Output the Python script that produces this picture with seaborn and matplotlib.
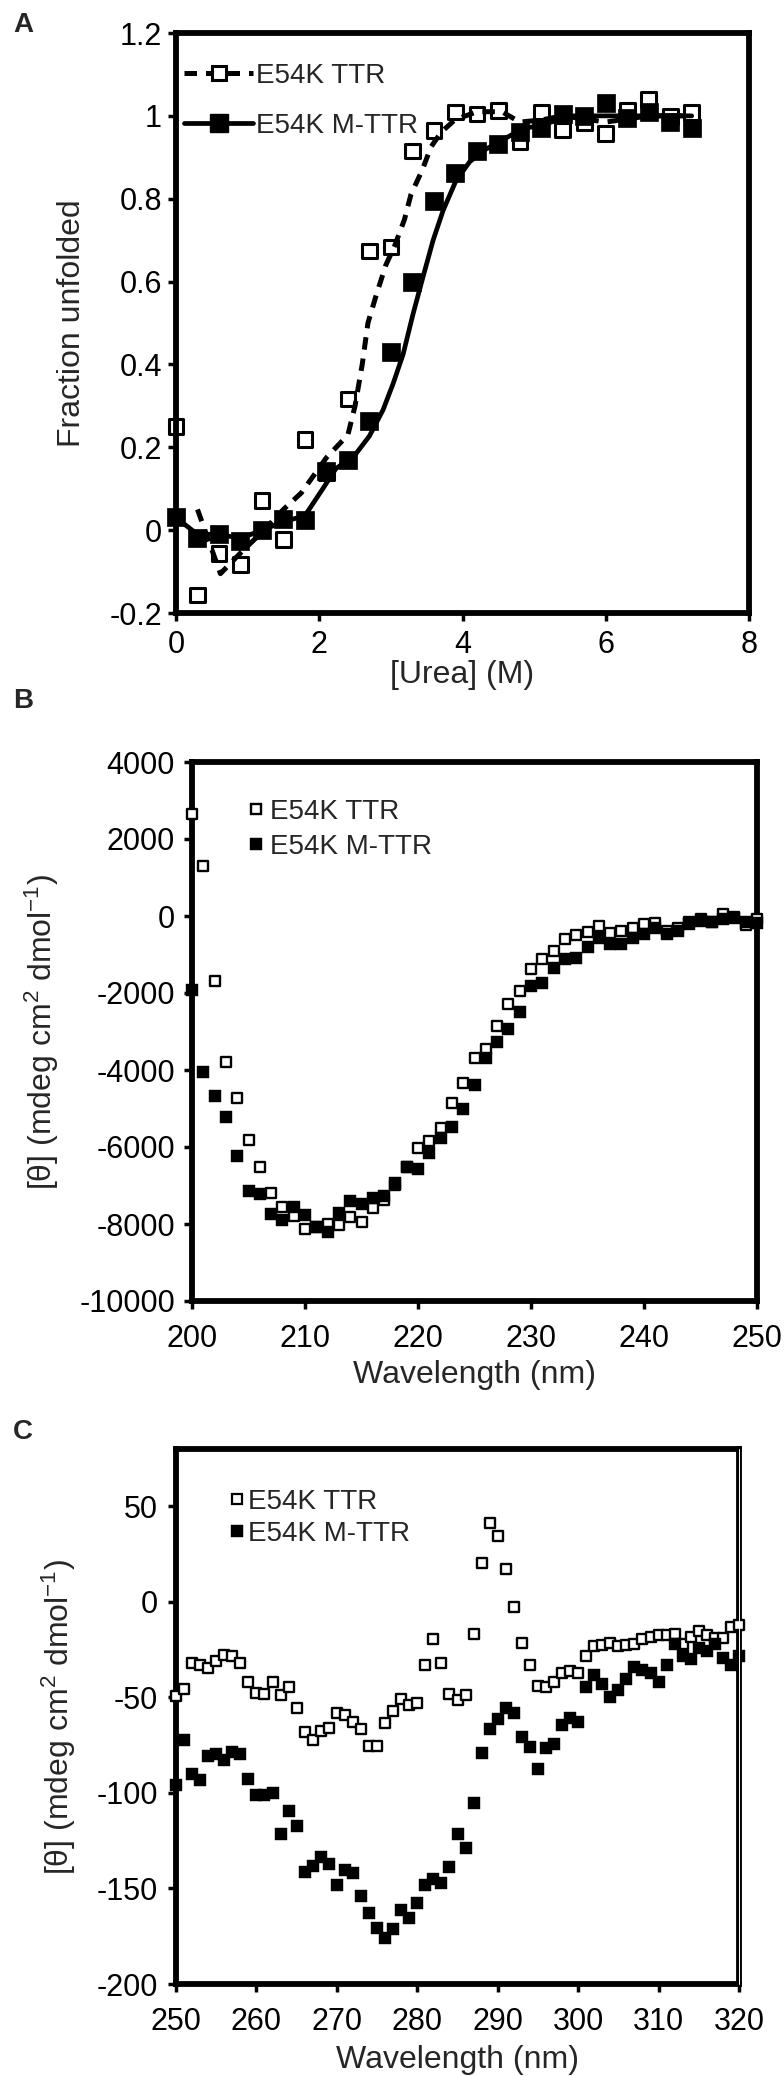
import matplotlib
matplotlib.use("Agg")
import matplotlib.pyplot as plt
from matplotlib.lines import Line2D
import seaborn as sns

# ---------------- Panel A data ----------------
urea = [0.0, 0.3, 0.6, 0.9, 1.2, 1.5, 1.8, 2.1, 2.4, 2.7, 3.0, 3.3, 3.6,
        3.9, 4.2, 4.5, 4.8, 5.1, 5.4, 5.7, 6.0, 6.3, 6.6, 6.9, 7.2]
ttr_unf = [0.25, -0.157, -0.057, -0.083, 0.071, -0.022, 0.219, 0.138, 0.317,
           0.674, 0.683, 0.915, 0.964, 1.009, 1.004, 1.013, 0.937, 1.009,
           0.966, 0.984, 0.957, 1.013, 1.04, 0.998, 1.008]
mttr_unf = [0.032, -0.018, -0.009, -0.027, 0.0, 0.027, 0.025, 0.143, 0.17,
            0.263, 0.429, 0.598, 0.794, 0.862, 0.915, 0.933, 0.962, 0.97,
            1.005, 1.0, 1.03, 0.995, 1.01, 0.984, 0.97]
fit_ttr_x = [0.3, 0.62, 0.93, 1.2, 1.5, 1.75, 2.1, 2.4, 2.5, 2.6, 2.68, 2.8,
             2.93, 3.05, 3.19, 3.28, 3.44, 3.56, 3.7, 3.89, 4.2, 4.55, 4.8,
             5.1, 5.4, 6.0, 6.6, 7.2]
fit_ttr_y = [0.05, -0.105, -0.05, -0.005, 0.05, 0.09, 0.175, 0.23, 0.30, 0.40,
             0.50, 0.57, 0.64, 0.685, 0.75, 0.81, 0.87, 0.925, 0.96, 0.99,
             1.01, 1.01, 0.985, 0.99, 1.0, 0.985, 1.0, 1.0]
fit_mttr_x = [0.0, 0.3, 0.6, 0.9, 1.2, 1.5, 1.8, 2.05, 2.23, 2.51, 2.7, 2.89,
              3.03, 3.17, 3.31, 3.45, 3.59, 3.73, 3.91, 4.1, 4.28, 4.56, 4.84,
              5.12, 5.5, 6.0, 6.6, 7.2]
fit_mttr_y = [0.03, -0.01, -0.01, -0.02, 0.0, 0.02, 0.035, 0.10, 0.148, 0.184,
              0.227, 0.29, 0.353, 0.424, 0.522, 0.612, 0.70, 0.772, 0.844,
              0.889, 0.915, 0.942, 0.969, 0.978, 1.0, 1.0, 1.0, 1.0]
a_xticks = [0, 2, 4, 6, 8]
a_yticks = [-0.2, 0, 0.2, 0.4, 0.6, 0.8, 1.0, 1.2]
a_ylabels = ["-0.2", "0", "0.2", "0.4", "0.6", "0.8", "1", "1.2"]

# ---------------- Panel B data (far-UV CD) ----------------
wl_b = list(range(200, 251))
ttr_far = [2660, 1296, -1690, -3800, -4720, -5820, -6530, -7190, -7560, -7800,
           -8140, -8080, -7990, -8020, -7810, -7940, -7580, -7380, -6980, -6520,
           -6030, -5850, -5510, -4860, -4340, -3680, -3450, -2850, -2290, -1940,
           -1370, -1110, -900, -610, -500, -420, -270, -440, -380, -320,
           -210, -170, -380, -320, -150, -70, -150, 50, -30, -230, -90]
mttr_far = [-1910, -4060, -4680, -5210, -6230, -7130, -7210, -7730, -7900, -7560,
            -7770, -8080, -8220, -7710, -7410, -7480, -7330, -7270, -6940, -6520,
            -6570, -6150, -5760, -5470, -5010, -4400, -3680, -3280, -2930, -2490,
            -1830, -1740, -1340, -1110, -1080, -810, -560, -730, -730, -580,
            -460, -300, -460, -380, -210, -120, -150, -90, -60, -150, -170]
b_xticks = [200, 210, 220, 230, 240, 250]
b_yticks = [-10000, -8000, -6000, -4000, -2000, 0, 2000, 4000]

# ---------------- Panel C data (near-UV CD) ----------------
wl_c = list(range(250, 321))
ttr_near = [-49.3, -45.4, -31.9, -33.0, -34.6, -30.7, -27.8, -28.5, -31.9, -42.0,
            -47.5, -48.1, -41.8, -48.8, -44.3, -55.4, -68.0, -72.3, -67.8, -65.8,
            -58.3, -59.4, -62.8, -66.7, -75.3, -75.3, -63.5, -57.2, -51.1, -53.8,
            -52.7, -32.8, -19.4, -31.9, -48.1, -51.5, -48.8, -16.9, 20.1, 41.1,
            34.4, 17.4, -2.9, -21.5, -32.8, -44.1, -44.7, -41.8, -37.3, -36.2,
            -37.3, -28.2, -23.3, -22.6, -21.5, -23.3, -22.6, -22.1, -19.2, -18.3,
            -17.6, -17.6, -16.9, -22.1, -18.3, -15.4, -17.2, -18.8, -18.8, -13.1,
            -12.0]
mttr_near = [-95.6, -72.5, -89.9, -93.3, -80.9, -79.8, -82.7, -78.6, -79.8, -92.9,
             -101.2, -101.2, -100.1, -121.6, -109.6, -117.1, -141.5, -138.5, -133.3, -137.4,
             -148.2, -140.3, -141.9, -153.9, -162.9, -170.6, -175.8, -171.3, -161.1, -165.2,
             -157.7, -148.2, -144.9, -146.9, -139.0, -121.6, -129.0, -105.1, -79.3, -66.7,
             -61.2, -55.6, -58.3, -70.7, -75.9, -87.7, -76.4, -74.6, -64.6, -60.6,
             -62.8, -44.7, -38.4, -42.9, -49.9, -45.9, -40.2, -34.1, -35.7, -37.3,
             -41.8, -32.8, -22.1, -28.2, -30.1, -24.4, -25.5, -22.1, -29.4, -32.8,
             -28.2]
c_xticks = [250, 260, 270, 280, 290, 300, 310, 320]
c_yticks = [-200, -150, -100, -50, 0, 50]

labels = ["E54K TTR", "E54K M-TTR"]

# ---------------- style ----------------
sns.set_style("ticks")
plt.rcParams["font.family"] = ["Liberation Sans", "DejaVu Sans"]
plt.rcParams["axes.unicode_minus"] = False
plt.rcParams["mathtext.fontset"] = "custom"
plt.rcParams["mathtext.rm"] = "Liberation Sans"
plt.rcParams["mathtext.default"] = "regular"

W, H = 784, 2076
fig = plt.figure(figsize=(W / 100, H / 100), dpi=100)
fig.patch.set_facecolor("white")


def add_axes(l, r, t, b):
    return fig.add_axes([l / W, 1 - b / H, (r - l) / W, (b - t) / H])


def style(ax, xpad, ypad, fs):
    ax.set_facecolor("white")
    for s in ax.spines.values():
        s.set_visible(True)
        s.set_linewidth(4.2)
        s.set_color("black")
        s.set_capstyle("projecting")
        s.set_zorder(6)
    ax.tick_params(direction="out", length=5.8, width=2.5, color="black",
                   labelsize=fs, labelcolor="black")
    ax.tick_params(axis="x", pad=xpad)
    ax.tick_params(axis="y", pad=ypad)
    ax.grid(False)


axA = add_axes(176, 749, 33, 613)
axB = add_axes(192, 757, 762, 1301)
axC = add_axes(176, 739, 1449, 1984)

DASH = (0, (2.5, 1.8))

# ---------------- Panel A ----------------
sns.lineplot(x=fit_ttr_x, y=fit_ttr_y, ax=axA, color="black", linewidth=3.6,
             linestyle=DASH, estimator=None, errorbar=None, zorder=2)
sns.lineplot(x=fit_mttr_x, y=fit_mttr_y, ax=axA, color="black", linewidth=3.4,
             estimator=None, errorbar=None, zorder=2)
sns.scatterplot(x=urea, y=ttr_unf, ax=axA, marker="s", s=10.5 ** 2,
                facecolor="none", edgecolor="black", linewidth=2.2, zorder=7,
                legend=False, clip_on=False)
sns.scatterplot(x=urea, y=mttr_unf, ax=axA, marker="s", s=12.5 ** 2,
                color="black", edgecolor="black", linewidth=0.5, zorder=8,
                legend=False, clip_on=False)
axA.set_xlim(0, 8)
axA.set_ylim(-0.2, 1.2)
axA.set_xticks(a_xticks)
axA.set_xticklabels([str(v) for v in a_xticks])
axA.set_yticks(a_yticks)
axA.set_yticklabels(a_ylabels)
style(axA, 6.5, 4.3, 22)
axA.set_xlabel("[Urea] (M)", fontsize=23, labelpad=0)
axA.set_ylabel("Fraction unfolded", fontsize=23, labelpad=0)
axA.xaxis.set_label_coords(0.5, -0.081)
axA.yaxis.set_label_coords(-0.155, 0.5)
hA1 = Line2D([], [], color="black", lw=3.6, linestyle=DASH, marker="s", ms=10.5,
             mfc="white", mec="black", mew=2.2)
hA2 = Line2D([], [], color="black", lw=3.4, marker="s", ms=12.5, mfc="black",
             mec="black")
axA.legend([hA1, hA2], labels, loc="upper left", bbox_to_anchor=(0.014, 0.949),
           frameon=False, fontsize=20, handlelength=2.5, handletextpad=0.1,
           labelspacing=0.87, borderpad=0, borderaxespad=0, numpoints=1)

# ---------------- Panel B ----------------
sns.scatterplot(x=wl_b, y=ttr_far, ax=axB, marker="s", s=7.2 ** 2,
                color="white", edgecolor="black", linewidth=1.7, zorder=7,
                legend=False, clip_on=False)
sns.scatterplot(x=wl_b, y=mttr_far, ax=axB, marker="s", s=9.0 ** 2,
                color="black", edgecolor="black", linewidth=0.3, zorder=8,
                legend=False, clip_on=False)
axB.set_xlim(200, 250)
axB.set_ylim(-10000, 4000)
axB.set_xticks(b_xticks)
axB.set_xticklabels([str(v) for v in b_xticks])
axB.set_yticks(b_yticks)
axB.set_yticklabels([str(v) for v in b_yticks])
style(axB, 11, 6.5, 22)
axB.set_xlabel("Wavelength (nm)", fontsize=23, labelpad=0)
axB.set_ylabel("[θ] (mdeg cm$^{2}$ dmol$^{-1}$)", fontsize=23, labelpad=0)
axB.xaxis.set_label_coords(0.5, -0.11)
axB.yaxis.set_label_coords(-0.232, 0.5)
hB1 = Line2D([], [], linestyle="none", marker="s", ms=7.2, mfc="white",
             mec="black", mew=1.7)
hB2 = Line2D([], [], linestyle="none", marker="s", ms=9.0, mfc="black",
             mec="black", mew=0.3)
axB.legend([hB1, hB2], labels, loc="upper left", bbox_to_anchor=(0.099, 0.931),
           frameon=False, fontsize=20, handlelength=0.6, handletextpad=0.2,
           labelspacing=0.3, borderpad=0, borderaxespad=0, numpoints=1)

# ---------------- Panel C ----------------
sns.scatterplot(x=wl_c, y=ttr_near, ax=axC, marker="s", s=7.8 ** 2,
                color="white", edgecolor="black", linewidth=1.7, zorder=7,
                legend=False, clip_on=False)
sns.scatterplot(x=wl_c, y=mttr_near, ax=axC, marker="s", s=9.2 ** 2,
                color="black", edgecolor="black", linewidth=0.3, zorder=8,
                legend=False, clip_on=False)
axC.set_xlim(250, 320)
axC.set_ylim(-200, 80)
axC.set_xticks(c_xticks)
axC.set_xticklabels([str(v) for v in c_xticks])
axC.set_yticks(c_yticks)
axC.set_yticklabels([str(v) for v in c_yticks])
style(axC, 11, 7, 22)
axC.set_xlabel("Wavelength (nm)", fontsize=23, labelpad=0)
axC.set_ylabel("[θ] (mdeg cm$^{2}$ dmol$^{-1}$)", fontsize=23, labelpad=0)
axC.xaxis.set_label_coords(0.5, -0.114)
axC.yaxis.set_label_coords(-0.174, 0.5)
axC.axvline(320, color="white", lw=0.7, zorder=10, clip_on=False)
hC1 = Line2D([], [], linestyle="none", marker="s", ms=6.8, mfc="white",
             mec="black", mew=1.6)
hC2 = Line2D([], [], linestyle="none", marker="s", ms=8.2, mfc="black",
             mec="black", mew=0.3)
axC.legend([hC1, hC2], labels, loc="upper left", bbox_to_anchor=(0.096, 0.925),
           frameon=False, fontsize=20, handlelength=0.5, handletextpad=0.15,
           labelspacing=0.2, borderpad=0, borderaxespad=0, numpoints=1)

# ---------------- panel letters ----------------
for letter, yc in (("A", 25), ("B", 701), ("C", 1432)):
    fig.text(23 / W, 1 - yc / H, letter, fontsize=20, fontweight="bold",
             ha="center", va="center")

fig.savefig("out.png", dpi=100, facecolor="white")
